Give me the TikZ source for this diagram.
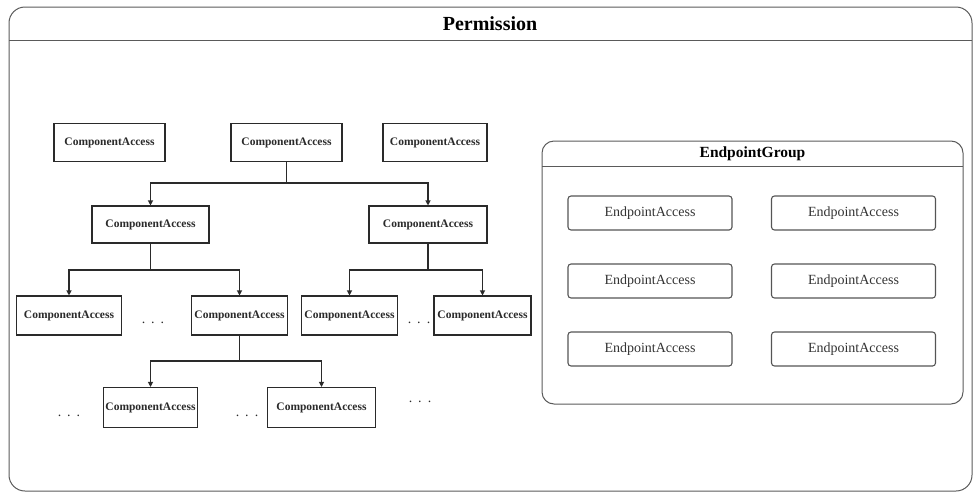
\documentclass[tikz,border=0pt]{standalone}
\usepackage{fontspec}
\setmainfont{Liberation Serif}
\usetikzlibrary{arrows.meta}
\definecolor{frame}{HTML}{5A5A5A}
\definecolor{boxc}{HTML}{2A2A2A}
\definecolor{epc}{HTML}{555555}
\tikzset{
  ca/.style={draw=boxc, line width=1.1pt, inner sep=0pt, minimum height=38pt,
    font=\fontsize{11.5}{12}\selectfont\bfseries, text=boxc},
  ep/.style={draw=epc, line width=1.1pt, rounded corners=3pt, inner sep=0pt,
    minimum width=164pt, minimum height=34pt, font=\fontsize{14}{15}\selectfont, text=black!80},
  conn/.style={draw=boxc, line width=1.1pt},
  arr/.style={conn, -{Triangle[width=5pt,length=5pt]}},
  dotsn/.style={anchor=base, inner sep=0pt, font=\fontsize{14}{14}\selectfont, text=boxc},
}
\newcommand{\mydots}{.\hspace{6pt}.\hspace{6pt}.}
\begin{document}
\begin{tikzpicture}[x=1pt,y=-1pt]
\useasboundingbox (0,0) rectangle (974,493);
% outer frame
\draw[frame, line width=1pt, rounded corners=16pt] (9,7) rectangle (972,491);
\coordinate (hl) at (9,40); \coordinate (hr) at (972,40);
\draw[frame, line width=1pt] (hl) -- (hr);
\node[font=\fontsize{20}{22}\selectfont\bfseries] (ptitle) at (490,24) {Permission};

% component access tree
\node[ca, minimum width=111pt] (a) at (109.5,142.5) {ComponentAccess};
\node[ca, minimum width=111pt] (b) at (286.5,142.5) {ComponentAccess};
\node[ca, minimum width=104pt] (c) at (435,142.5) {ComponentAccess};

\node[ca, minimum width=117pt, minimum height=37pt] (l) at (150.5,224.5) {ComponentAccess};
\node[ca, minimum width=118pt, minimum height=37pt] (r) at (428,224.5) {ComponentAccess};

\node[ca, minimum width=105pt, minimum height=39pt] (r1) at (69,315.5) {ComponentAccess};
\node[ca, minimum width=96pt, minimum height=39pt] (r2) at (239.5,315.5) {ComponentAccess};
\node[ca, minimum width=96pt, minimum height=39pt] (r3) at (349.5,315.5) {ComponentAccess};
\node[ca, minimum width=97pt, minimum height=39pt] (r4) at (482.5,315.5) {ComponentAccess};

\node[ca, minimum width=94pt, minimum height=40pt] (r5) at (150.5,407.5) {ComponentAccess};
\node[ca, minimum width=108pt, minimum height=40pt] (r6) at (321.5,407.5) {ComponentAccess};

\coordinate (j1) at (286.5,183);
\draw[conn] (b.south) -- (j1);
\draw[arr] (j1) -| (l.north);
\draw[arr] (j1) -| (r.north);

\coordinate (j2) at (150.5,270);
\draw[conn] (l.south) -- (j2);
\draw[arr] (j2) -| (r1.north);
\draw[arr] (j2) -| (r2.north);

\coordinate (j3) at (428,270);
\draw[conn] (r.south) -- (j3);
\draw[arr] (j3) -| (r3.north);
\draw[arr] (j3) -| (r4.north);

\coordinate (j4) at (239.5,361);
\draw[conn] (r2.south) -- (j4);
\draw[arr] (j4) -| (r5.north);
\draw[arr] (j4) -| (r6.north);

\node[dotsn] (d1) at (153,323) {\mydots};
\node[dotsn] (d2) at (419,323) {\mydots};
\node[dotsn] (d3) at (69,416) {\mydots};
\node[dotsn] (d4) at (247,416) {\mydots};
\node[dotsn] (d5) at (420,402) {\mydots};

% endpoint group
\draw[frame, line width=1pt, rounded corners=12pt] (542,141) rectangle (963,404);
\coordinate (gl) at (542,166); \coordinate (gr) at (963,166);
\draw[frame, line width=1pt] (gl) -- (gr);
\node[font=\fontsize{15.5}{17}\selectfont\bfseries] (gtitle) at (752.5,154) {EndpointGroup};

\node[ep] (e11) at (650,213) {EndpointAccess};
\node[ep] (e12) at (853.5,213) {EndpointAccess};
\node[ep] (e21) at (650,281) {EndpointAccess};
\node[ep] (e22) at (853.5,281) {EndpointAccess};
\node[ep] (e31) at (650,349) {EndpointAccess};
\node[ep] (e32) at (853.5,349) {EndpointAccess};
\end{tikzpicture}
\end{document}
